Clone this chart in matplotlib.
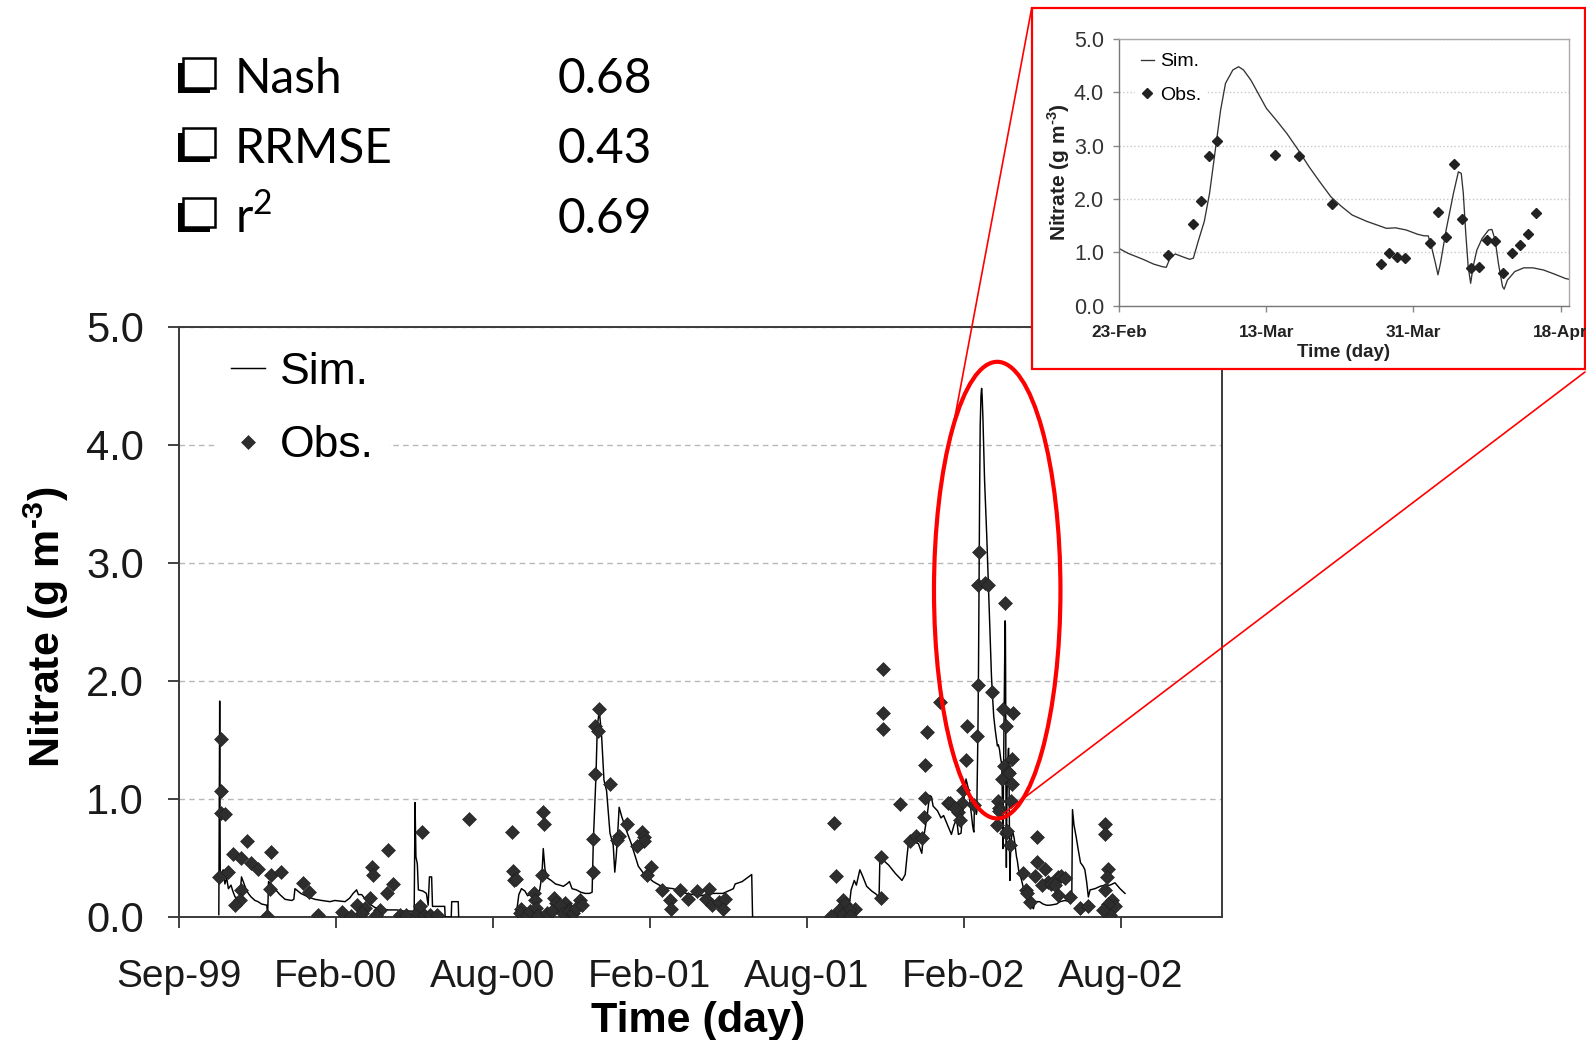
import numpy as np
import matplotlib
matplotlib.use("Agg")
import matplotlib.pyplot as plt
import matplotlib.dates as mdates
from matplotlib.ticker import FixedLocator, FormatStrFormatter
from matplotlib.patches import Ellipse, Rectangle, ConnectionPatch

plt.rcParams['font.family'] = ['Liberation Sans', 'DejaVu Sans']
plt.rcParams['mathtext.fontset'] = 'custom'
plt.rcParams['mathtext.rm'] = 'Lato'
plt.rcParams['mathtext.bf'] = 'Liberation Sans:bold'

# ---------------- goodness-of-fit statistics ----------------
stat_names = ['Nash', 'RRMSE', 'r$^{\\mathrm{2}}$']
stat_values = ['0.68', '0.43', '0.69']

# ---------------- full record (days counted from record_start) ----------------
record_start = np.datetime64('1999-09-01')
detail_start = np.datetime64('2002-02-23')

sim_run1_day = [46, 47, 47.6, 49, 51, 53, 55, 57, 60, 62,
                64.6, 68, 70.3, 72, 74, 77, 79.8, 83, 87.5, 91,
                95, 101, 102, 103, 104.7, 110, 116, 121.9, 129.5, 132,
                133.3, 140, 148.6, 156, 164, 173.5, 179, 190.7, 196, 200,
                204, 206, 209.8, 214, 219, 225, 231, 240, 250, 258,
                265, 270, 271, 272, 273.6, 274.8, 280, 284, 286, 287.5,
                290, 291, 299, 305, 305.5, 312.5, 313, 320.5, 321]
sim_run1_val = [0.02, 1.83, 0.40, 0.36, 0.40, 0.28, 0.33, 0.24, 0.27, 0.22,
                0.17, 0.16, 0.18, 0.34, 0.30, 0.24, 0.20, 0.17, 0.14, 0.13,
                0.11, 0.10, 0.02, 0.30, 0.29, 0.24, 0.19, 0.15, 0.14, 0.15,
                0.24, 0.20, 0.17, 0.15, 0.14, 0.13, 0.14, 0.13, 0.16, 0.20,
                0.23, 0.19, 0.19, 0.15, 0.11, 0.08, 0.07, 0.06, 0.06, 0.05,
                0.05, 0.05, 0.97, 0.51, 0.45, 0.23, 0.22, 0.20, 0.10, 0.34,
                0.34, 0.09, 0.09, 0.09, 0.0, 0.0, 0.13, 0.13, 0.0]

sim_run2_day = [387, 390, 393, 397, 400, 405, 410, 414, 416.5, 418,
                420, 423, 427, 432, 437, 441, 445, 448, 451, 456,
                461, 466, 471, 474, 475.4, 478.4, 480, 482.3, 485, 487.6,
                490.6, 494.5, 498.2, 500, 501.5, 503, 505, 508, 513, 519,
                527, 533, 544, 556, 567, 582, 598, 613, 624, 636,
                638, 646, 657, 658]
sim_run2_val = [0.02, 0.19, 0.24, 0.22, 0.18, 0.20, 0.19, 0.23, 0.36, 0.58,
                0.40, 0.33, 0.31, 0.28, 0.27, 0.26, 0.28, 0.30, 0.24, 0.23,
                0.21, 0.20, 0.20, 0.21, 0.64, 1.19, 1.62, 1.75, 1.52, 1.16,
                1.07, 0.71, 0.61, 0.38, 0.50, 0.66, 0.93, 0.85, 0.74, 0.62,
                0.43, 0.37, 0.30, 0.25, 0.24, 0.20, 0.18, 0.20, 0.20, 0.24,
                0.28, 0.30, 0.36, 0.0]

sim_run3_pre_day = [767, 768, 771, 774.6, 777, 781, 784, 788.8, 794.6, 800.3,
                    803, 804, 808, 814, 821.6, 829.3, 833, 835, 836.6, 842.4,
                    848.2, 852, 853, 855, 858, 861, 863, 865, 870, 874,
                    877, 882, 886, 889, 892, 894, 897, 899.6, 902.7, 905]
sim_run3_pre_val = [0.03, 0.05, 0.23, 0.31, 0.27, 0.40, 0.35, 0.26, 0.22, 0.19,
                    0.16, 0.50, 0.48, 0.44, 0.37, 0.31, 0.36, 0.51, 0.62, 0.65,
                    0.62, 0.54, 0.62, 0.71, 0.85, 1.03, 1.02, 0.94, 0.90, 0.84,
                    0.86, 0.77, 0.70, 0.78, 0.83, 0.70, 0.71, 0.94, 1.17, 1.10]
sim_run3_post_day = [963, 966.5, 969, 972, 976, 978, 980, 982, 987, 991,
                     995, 999, 1006.6, 1010.5, 1016, 1022, 1024, 1024.8, 1026.5, 1029,
                     1031.4, 1034, 1037, 1039, 1041, 1043, 1045, 1050.6, 1056.4, 1062,
                     1067.8, 1073.5, 1079.3, 1085]
sim_run3_post_val = [0.40, 0.31, 0.23, 0.17, 0.14, 0.09, 0.07, 0.13, 0.13, 0.11,
                     0.10, 0.10, 0.11, 0.13, 0.14, 0.13, 0.17, 0.91, 0.78, 0.68,
                     0.57, 0.46, 0.43, 0.40, 0.30, 0.17, 0.23, 0.24, 0.26, 0.27,
                     0.27, 0.29, 0.24, 0.20]

obs_a_day = [48, 48, 48, 53, 46, 56, 62, 72, 78, 83,
             91, 72, 70, 64, 106, 106, 117, 105, 142, 149,
             101, 160, 187, 204, 214, 210, 219, 222, 223, 240,
             246, 239, 231, 279, 333, 254, 261, 273, 281, 288,
             296, 277, 198, 226]
obs_a_val = [1.51, 1.07, 0.88, 0.87, 0.34, 0.38, 0.53, 0.50, 0.64, 0.46,
             0.41, 0.23, 0.14, 0.10, 0.55, 0.36, 0.38, 0.24, 0.29, 0.21,
             0.01, 0.02, 0.04, 0.10, 0.08, 0.03, 0.16, 0.42, 0.36, 0.57,
             0.28, 0.20, 0.06, 0.72, 0.83, 0.02, 0.02, 0.03, 0.02, 0.02,
             0.02, 0.09, 0.01, 0.02]

obs_b_day = [382, 383, 384, 387, 418, 419, 416, 407, 408, 392,
             430, 433, 443, 448, 460, 475, 475, 477, 477, 482,
             481, 495, 505, 503, 514, 531, 533, 534, 525, 542,
             537, 554, 563, 564, 575, 584, 594, 608, 605, 611,
             619, 626, 624, 391, 399, 403, 410, 412, 422, 428,
             437, 441, 447, 452, 456, 462]
obs_b_val = [0.72, 0.39, 0.31, 0.32, 0.89, 0.79, 0.36, 0.20, 0.14, 0.07,
             0.16, 0.12, 0.12, 0.07, 0.14, 0.38, 0.66, 1.21, 1.62, 1.76,
             1.58, 1.13, 0.69, 0.65, 0.79, 0.72, 0.68, 0.64, 0.60, 0.42,
             0.36, 0.23, 0.14, 0.07, 0.23, 0.15, 0.22, 0.24, 0.15, 0.10,
             0.13, 0.15, 0.07, 0.03, 0.02, 0.05, 0.08, 0.02, 0.03, 0.05,
             0.10, 0.03, 0.05, 0.03, 0.08, 0.10]

obs_c_day = [751, 754, 762, 764, 757, 775, 768, 760, 748, 770,
             808, 808, 807, 805, 805, 827, 838, 845, 852, 855,
             856, 856, 858, 873, 882, 904, 903, 899, 884, 898,
             894, 896, 890, 984, 968, 972, 976, 984, 982, 993,
             997, 1008, 1012, 1016, 1008, 1022, 1033, 1043, 1062, 1062,
             1066, 1064, 1062, 1070, 1073, 1066, 1068, 1060, 973, 990,
             1000, 1005]
obs_c_val = [0.80, 0.35, 0.14, 0.11, 0.06, 0.07, 0.06, 0.02, 0.01, 0.01,
             2.10, 1.73, 1.59, 0.51, 0.16, 0.96, 0.64, 0.69, 0.67, 0.85,
             1.01, 1.29, 1.57, 1.82, 0.97, 1.62, 1.33, 1.08, 0.97, 0.97,
             0.89, 0.82, 0.92, 0.68, 0.37, 0.23, 0.13, 0.47, 0.35, 0.41,
             0.30, 0.34, 0.35, 0.33, 0.19, 0.17, 0.08, 0.09, 0.79, 0.70,
             0.41, 0.34, 0.23, 0.14, 0.09, 0.11, 0.02, 0.06, 0.20, 0.27,
             0.28, 0.27]

# ---------------- spring 2002 event (days counted from detail_start) ----------------
detail_sim_day = [0, 1.1, 2.9, 4.2, 5.3, 5.75, 6.2, 6.85, 7.7, 8.6,
                  9.06, 9.7, 10.4, 11.05, 11.7, 12.4, 13.0, 13.9, 14.6, 15.2,
                  16.1, 17.0, 18.0, 19.2, 20.5, 21.9, 23.2, 24.5, 25.9, 27.2,
                  28.5, 30.3, 31.6, 32.7, 33.8, 35.1, 36.5, 37.3, 37.8, 38.2,
                  38.7, 39.0, 39.3, 40.0, 40.9, 41.5, 41.85, 42.1, 42.4, 42.7,
                  43.0, 43.3, 43.75, 44.4, 45.2, 45.6, 46.0, 46.4, 46.9, 47.1,
                  47.5, 48.4, 49.5, 50.6, 51.9, 53.3, 54.6, 55.5]
detail_sim_val = [1.07, 0.98, 0.87, 0.78, 0.73, 0.72, 0.89, 0.97, 0.92, 0.87,
                  0.89, 1.23, 1.58, 2.11, 2.86, 3.67, 4.17, 4.42, 4.48, 4.42,
                  4.23, 3.98, 3.70, 3.48, 3.23, 2.92, 2.61, 2.33, 2.04, 1.86,
                  1.70, 1.58, 1.51, 1.45, 1.46, 1.42, 1.34, 1.31, 1.31, 1.11,
                  0.79, 0.58, 0.79, 1.42, 2.11, 2.51, 2.48, 2.11, 1.36, 0.73,
                  0.42, 0.73, 1.04, 1.26, 1.42, 1.43, 1.23, 0.79, 0.36, 0.31,
                  0.48, 0.64, 0.71, 0.71, 0.67, 0.59, 0.51, 0.48]
detail_obs_day = [6, 9, 10, 11, 12, 19, 22, 26, 32, 33,
                  34, 35, 38, 39, 40, 41, 42, 43, 44, 45,
                  46, 47, 48, 49, 50, 51]
detail_obs_val = [0.95, 1.53, 1.97, 2.81, 3.09, 2.83, 2.81, 1.91, 0.78, 0.98,
                  0.92, 0.90, 1.17, 1.76, 1.28, 2.66, 1.62, 0.71, 0.73, 1.23,
                  1.22, 0.61, 0.98, 1.13, 1.34, 1.73]

main_x_labels_fmt = '%b-%y'
detail_x_labels_fmt = '%d-%b'
ylabel_text = 'Nitrate (g m$^{\\mathbf{\u2010}\\mathbf{3}}$)'

# ---------------- assemble series on a date axis ----------------
t0 = mdates.date2num(record_start)
d0 = mdates.date2num(detail_start)
detail_offset = d0 - t0

run3_day = np.concatenate([sim_run3_pre_day, np.asarray(detail_sim_day) + detail_offset,
                           sim_run3_post_day])
run3_val = np.concatenate([sim_run3_pre_val, detail_sim_val, sim_run3_post_val])
sim_runs = [(np.asarray(sim_run1_day), np.asarray(sim_run1_val)),
            (np.asarray(sim_run2_day), np.asarray(sim_run2_val)),
            (run3_day, run3_val)]
obs_day = np.concatenate([obs_a_day, obs_b_day, obs_c_day,
                          np.asarray(detail_obs_day) + detail_offset])
obs_val = np.concatenate([obs_a_val, obs_b_val, obs_c_val, detail_obs_val])

# ---------------- figure ----------------
W, H = 1586, 1040
fig = plt.figure(figsize=(W / 100, H / 100), dpi=100)


def fxp(px):
    return px / W


def fyp(py):
    return 1 - py / H


ax = fig.add_axes([fxp(178.7), fyp(917), (1221.8 - 178.7) / W, (917 - 327) / H])
ax.set_zorder(0)

sim_handle = None
for d, v in sim_runs:
    sim_handle, = ax.plot(t0 + d, v, color='black', lw=1.05, zorder=3)
obs_handle, = ax.plot(t0 + obs_day, obs_val, linestyle='none', marker='D', ms=7,
                      color='#2e2e2e', mec='#1e1e1e', mew=0.4, zorder=4)

ax.set_xlim(t0, t0 + 1196)
ax.set_ylim(0, 5)
ax.xaxis.set_major_locator(FixedLocator(t0 + np.arange(0, 1196, 180)))
ax.xaxis.set_major_formatter(mdates.DateFormatter(main_x_labels_fmt))
ax.yaxis.set_major_locator(FixedLocator(np.arange(0, 5.01, 1.0)))
ax.yaxis.set_major_formatter(FormatStrFormatter('%.1f'))
ax.grid(axis='y', color='#b8b8b8', linestyle=(0, (4, 3)), lw=1.0, zorder=1)
ax.set_axisbelow(True)
ax.tick_params(axis='y', direction='out', length=8, width=1.3, labelsize=30,
               pad=17, colors='#333333', labelcolor='#1a1a1a')
ax.tick_params(axis='x', direction='out', length=8, width=1.3, labelsize=28,
               pad=22, colors='#333333', labelcolor='#1a1a1a')
for s in ax.spines.values():
    s.set_color('#3a3a3a')
    s.set_linewidth(1.4)

ax.set_ylabel(ylabel_text, fontsize=31, fontweight='bold', va='center')
ax.yaxis.set_label_coords(-0.1265, 0.491)
ax.set_xlabel('Time (day)', fontsize=31, fontweight='bold', va='center')
ax.xaxis.set_label_coords(0.4977, -0.176)

ax.legend([sim_handle, obs_handle], ['Sim.', 'Obs.'], loc='upper left',
          bbox_to_anchor=(0.035, 0.984), fontsize=32, frameon=True, framealpha=1,
          facecolor='white', edgecolor='none', fancybox=False, borderpad=0.35,
          labelspacing=0.73, handlelength=0.78, handletextpad=0.32,
          borderaxespad=0, numpoints=1)

# highlight of the spring 2002 event
ax.add_patch(Ellipse((t0 + 938.5, 2.77), width=145, height=3.87, fill=False,
                     edgecolor='#ff0000', lw=3.0, clip_on=False, zorder=6))

# ---------------- detail panel ----------------
fig.add_artist(Rectangle((fxp(1031.7), fyp(369)), fxp(1585) - fxp(1031.7),
                         fyp(8.1) - fyp(369), transform=fig.transFigure,
                         facecolor='white', edgecolor='#ff0000', lw=1.6, zorder=1.5))

ax2 = fig.add_axes([fxp(1119.3), fyp(305.7), (1568.7 - 1119.3) / W, (305.7 - 39) / H])
ax2.set_zorder(2)
ax2.plot(d0 + np.asarray(detail_sim_day), detail_sim_val, color='#333333', lw=0.95,
         label='Sim.')
ax2.plot(d0 + np.asarray(detail_obs_day), detail_obs_val, linestyle='none', marker='D',
         ms=4.6, color='#222222', label='Obs.')
ax2.set_xlim(d0, d0 + 55)
ax2.set_ylim(0, 5)
ax2.xaxis.set_major_locator(FixedLocator(d0 + np.arange(0, 55, 18)))
ax2.xaxis.set_major_formatter(mdates.DateFormatter(detail_x_labels_fmt))
ax2.yaxis.set_major_locator(FixedLocator(np.arange(0, 5.01, 1.0)))
ax2.yaxis.set_major_formatter(FormatStrFormatter('%.1f'))
ax2.grid(axis='y', color='#c8c8c8', linestyle=':', lw=1.0)
ax2.set_axisbelow(True)
ax2.tick_params(axis='y', direction='out', length=4, width=1.0, labelsize=15.5,
                pad=7, colors='#888888', labelcolor='#333333')
ax2.tick_params(axis='x', direction='out', length=4, width=1.0, labelsize=12.4,
                pad=10, colors='#888888', labelcolor='#222222')
for lab in ax2.get_xticklabels():
    lab.set_fontweight('bold')
ax2.spines['left'].set_color('#777777')
ax2.spines['bottom'].set_color('#777777')
ax2.spines['top'].set_color('#aaaaaa')
ax2.spines['right'].set_color('#aaaaaa')
for s in ax2.spines.values():
    s.set_linewidth(1.0)
ax2.set_ylabel(ylabel_text, fontsize=15, fontweight='bold', va='center',
               color='#222222')
ax2.yaxis.set_label_coords(-0.134, 0.501)
ax2.set_xlabel('Time (day)', fontsize=13.5, fontweight='bold', va='center',
               color='#222222')
ax2.xaxis.set_label_coords(0.498, -0.174)
ax2.legend(loc='upper left', bbox_to_anchor=(0.035, 0.97), fontsize=14,
           frameon=True, framealpha=1, facecolor='white', edgecolor='none',
           fancybox=False, borderpad=0.3, labelspacing=0.8, handlelength=0.65,
           handletextpad=0.35, borderaxespad=0, numpoints=1)

# leader lines from the panel to the highlighted event
for xy_fig, xy_data in [((fxp(1031.7), fyp(8.1)), (t0 + 887.3, 4.13)),
                        ((fxp(1585), fyp(372)), (t0 + 945, 0.873))]:
    cp = ConnectionPatch(xyA=xy_fig, coordsA='figure fraction', xyB=xy_data,
                         coordsB='data', axesB=ax, color='#ff0000', lw=1.2,
                         zorder=3)
    fig.add_artist(cp)

# ---------------- statistics block ----------------
row_baselines = [93, 162.8, 232.6]
for name, value, base in zip(stat_names, stat_values, row_baselines):
    fig.add_artist(Rectangle((fxp(178), fyp(base - 0.5)), fxp(210) - fxp(178),
                             fyp(base - 29.5) - fyp(base - 0.5),
                             transform=fig.transFigure, facecolor='black',
                             edgecolor='none', zorder=2))
    fig.add_artist(Rectangle((fxp(183), fyp(base - 5.5)), fxp(215) - fxp(183),
                             fyp(base - 34.5) - fyp(base - 5.5),
                             transform=fig.transFigure, facecolor='white',
                             edgecolor='black', lw=1.8, zorder=2.1))
    fig.text(fxp(234.6), fyp(base), name, fontsize=34.5,
             family=['Lato', 'DejaVu Sans'], ha='left', va='baseline', color='black')
    fig.text(fxp(557.3), fyp(base), value, fontsize=34.5,
             family=['Lato', 'DejaVu Sans'], ha='left', va='baseline', color='black')

fig.savefig('out.png', dpi=100)
